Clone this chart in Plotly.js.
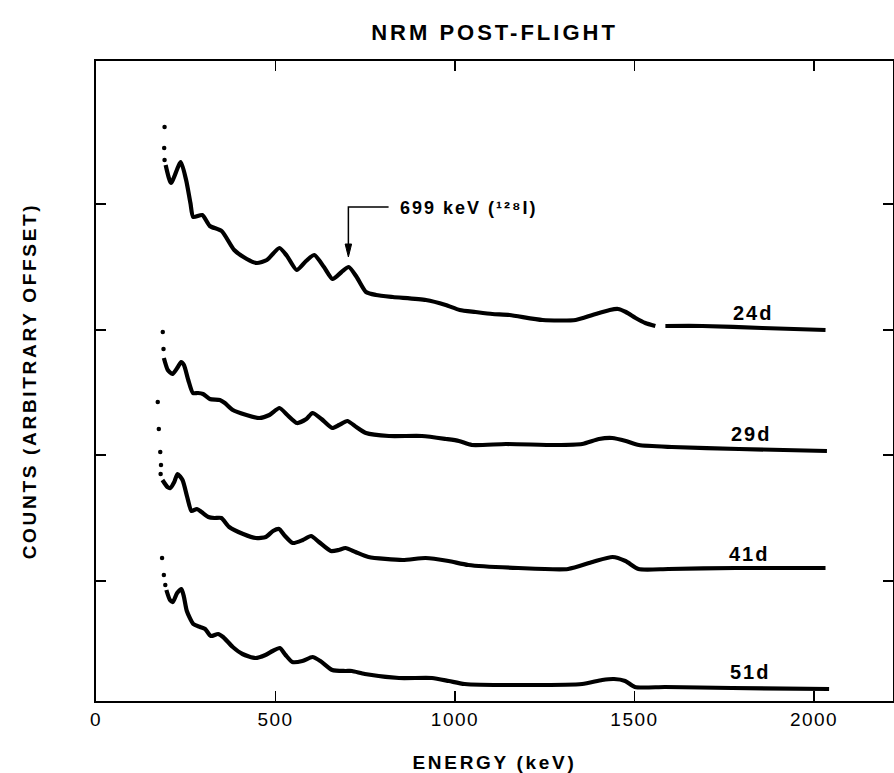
<!DOCTYPE html>
<html>
<head>
<meta charset="utf-8">
<script src="https://cdn.plot.ly/plotly-3.0.1.min.js"></script>
<style>
  body { margin: 0; background: #ffffff; }
  #chart { width: 894px; height: 773px; }
  .gtitle { letter-spacing: 3px; }
  .xtitle, .ytitle { letter-spacing: 2.7px; }
  .xtick text { letter-spacing: 1.5px; }
  .annotation-text { letter-spacing: 2px; }
</style>
</head>
<body>
<div id="chart"></div>
<script>
// ---- Data (energy in keV, counts in arbitrary offset units) ----
const e24Dots = [191, 190, 191];
const c24Dots = [574, 553, 541];
const e24 = [194, 209, 236, 251, 263, 271, 296, 317, 350, 385, 420, 448, 476, 511, 532, 559, 585, 608, 635, 659, 684, 704, 726, 752, 780, 827, 919, 974, 1013, 1057, 1104, 1152, 1244, 1336, 1383, 1431, 1454, 1476, 1503, 1530, 1558, null, 1586, 1689, 1856, 2032];
const c24 = [536, 518, 539, 521, 498, 484, 486, 475, 470, 451, 442, 438, 441, 453, 445, 431, 440, 446, 434, 422, 429, 434, 424, 409, 406, 404, 401, 396, 391, 389, 387, 386, 381, 381, 386, 391, 392, 389, 383, 378, 375, null, 375, 375, 373, 371];

const e29Dots = [186, 188];
const c29Dots = [369, 352];
const e29 = [189, 200, 213, 228, 237, 245, 257, 270, 284, 298, 317, 345, 359, 381, 419, 455, 483, 511, 533, 560, 586, 603, 628, 658, 677, 700, 725, 752, 816, 908, 975, 1011, 1047, 1142, 1281, 1354, 1401, 1438, 1476, 1512, 1604, 1791, 2036];
const c29 = [343, 331, 327, 334, 339, 336, 321, 308, 308, 307, 302, 301, 298, 291, 286, 283, 286, 293, 286, 278, 282, 288, 282, 273, 276, 280, 274, 268, 265, 265, 262, 260, 256, 257, 256, 257, 262, 263, 260, 256, 254, 252, 250];

const e41Dots = [172, 175, 179, 181, 180];
const c41Dots = [299, 272, 249, 236, 227];
const e41 = [185, 199, 207, 218, 227, 241, 254, 266, 281, 294, 313, 330, 349, 371, 410, 445, 473, 493, 510, 524, 548, 576, 599, 621, 654, 676, 695, 723, 759, 854, 918, 982, 1037, 1176, 1315, 1383, 1439, 1475, 1511, 1594, 1781, 2032];
const c41 = [221, 214, 213, 219, 227, 221, 204, 190, 192, 189, 184, 183, 183, 174, 167, 163, 164, 170, 172, 166, 158, 161, 165, 159, 150, 151, 153, 149, 144, 141, 143, 140, 136, 133, 132, 139, 144, 140, 132, 132, 133, 133];

const e51Dots = [184, 189, 193];
const c51Dots = [143, 126, 116];
const e51 = [196, 206, 214, 226, 238, 245, 253, 271, 290, 304, 320, 340, 354, 381, 408, 444, 472, 492, 512, 528, 547, 575, 603, 625, 658, 694, 713, 749, 844, 936, 983, 1027, 1214, 1354, 1410, 1443, 1474, 1501, 1585, 1771, 2042];
const c51 = [111, 101, 99, 108, 112, 104, 90, 77, 74, 72, 65, 67, 64, 54, 47, 43, 46, 50, 53, 46, 39, 40, 44, 40, 31, 30, 30, 27, 23, 23, 20, 17, 16, 17, 21, 22, 20, 14, 14, 13, 12];

const seriesNames = ['24d', '29d', '41d', '51d'];
const labelE = [1829, 1825, 1818, 1823];
const labelC = [388, 267, 147, 29];

const xTickVals = [0, 500, 1000, 1500, 2000];
const xTickText = ['0', '500', '1000', '1500', '2000'];
const yTickVals = [120, 246, 371, 497];

const peakLabel = '699 keV (\u00B9\u00B2\u2078I)';

// ---- Traces ----
const series = [
  [e24Dots, c24Dots, e24, c24],
  [e29Dots, c29Dots, e29, c29],
  [e41Dots, c41Dots, e41, c41],
  [e51Dots, c51Dots, e51, c51]
];
const traces = [];
series.forEach((s, i) => {
  traces.push({
    x: s[0], y: s[1], type: 'scatter', mode: 'markers', name: seriesNames[i] + ' low-energy',
    marker: { color: 'black', size: 4.5 }, hoverinfo: 'skip'
  });
  traces.push({
    x: s[2], y: s[3], type: 'scatter', mode: 'lines', name: seriesNames[i],
    line: { color: 'black', width: 4.2, shape: 'spline', smoothing: 0.6 },
    connectgaps: false
  });
});

const annotations = seriesNames.map((n, i) => ({
  x: labelE[i], y: labelC[i], xref: 'x', yref: 'y', text: n, showarrow: false,
  font: { size: 20, weight: 'bold', color: 'black' }
}));
annotations.push({
  x: 840, y: 493, xref: 'x', yref: 'y', xanchor: 'left', yanchor: 'middle',
  text: peakLabel, showarrow: false, font: { size: 18, weight: 'bold', color: 'black' }
});

const layout = {
  width: 894, height: 773,
  margin: { l: 96, r: 1, t: 61, b: 72, pad: 0 },
  paper_bgcolor: 'white', plot_bgcolor: 'white',
  showlegend: false,
  font: { family: 'Liberation Sans, Arial, sans-serif', color: 'black' },
  title: {
    text: 'NRM POST-FLIGHT', x: 0.5, xref: 'paper', y: 1 - 32 / 773, yref: 'container', yanchor: 'middle',
    font: { size: 22, weight: 'bold', color: 'black' }
  },
  xaxis: {
    range: [0, 2220], tickvals: xTickVals, ticktext: xTickText,
    ticks: 'inside', ticklen: 10, tickwidth: 1.6, tickcolor: 'black',
    showline: true, linewidth: 2.2, linecolor: 'black', mirror: 'ticks',
    showgrid: false, zeroline: false, tickfont: { size: 19 },
    title: { text: 'ENERGY (keV)', font: { size: 19, weight: 'bold' } }
  },
  yaxis: {
    range: [0, 640], tickvals: yTickVals, showticklabels: false,
    ticks: 'inside', ticklen: 10, tickwidth: 1.6, tickcolor: 'black',
    showline: true, linewidth: 2.2, linecolor: 'black', mirror: 'ticks',
    showgrid: false, zeroline: false,
    title: { text: 'COUNTS (ARBITRARY OFFSET)', font: { size: 19, weight: 'bold' }, standoff: 52 }
  },
  shapes: [
    {
      type: 'path', xref: 'x', yref: 'y', path: 'M 815 494 L 703 494 L 703 452',
      line: { color: 'black', width: 1.5 }
    },
    {
      type: 'path', xref: 'x', yref: 'y', path: 'M 694 457 L 712 457 L 703 444 Z',
      line: { color: 'black', width: 1 }, fillcolor: 'black'
    }
  ],
  annotations: annotations
};

Plotly.newPlot('chart', traces, layout, { staticPlot: true, displayModeBar: false }).then(function () {
  document.querySelectorAll('#js-plotly-tester').forEach(function (el) { el.parentNode.removeChild(el); });
  document.querySelectorAll('svg text').forEach(function (t) {
    if (!t.textContent || !t.textContent.trim()) { t.parentNode.removeChild(t); }
  });
});
</script>
</body>
</html>
